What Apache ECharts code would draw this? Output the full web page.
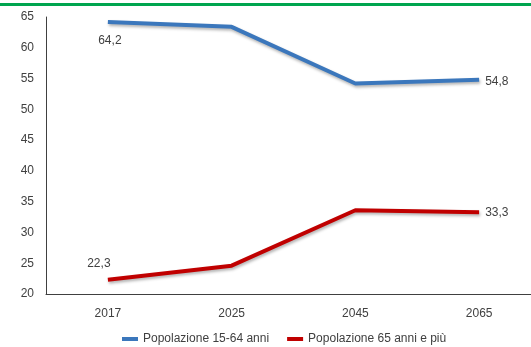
<!DOCTYPE html>
<html>
<head>
<meta charset="utf-8">
<script src="https://cdn.jsdelivr.net/npm/echarts@6/dist/echarts.min.js"></script>
<style>
  html, body { margin: 0; padding: 0; background: #ffffff; }
  #topbar { position: absolute; left: 0; top: 3px; width: 531px; height: 3px; background: #00a54f; }
  #chart { width: 531px; height: 347px; }
</style>
</head>
<body>
<div id="topbar"></div>
<div id="chart"></div>
<script>
// Anni di proiezione
const years = ['2017', '2025', '2045', '2065'];
// Quota percentuale della popolazione per fascia d'età
const pop1564 = [64.2, 63.4, 54.2, 54.8];
const pop65 = [22.3, 24.6, 33.6, 33.3];
const seriesNames = ['Popolazione 15-64 anni', 'Popolazione 65 anni e più'];
const yTicks = { min: 20, max: 65, step: 5 };

const font = '"Liberation Sans", Arial, sans-serif';
const chart = echarts.init(document.getElementById('chart'));

// Etichette con virgola decimale, solo sul primo e sull'ultimo punto
function fmt(p) { return String(p.value).replace('.', ','); }

function withLabels(values, firstLabel, lastLabel) {
  return values.map(function (v, i) {
    if (i === 0) return { value: v, label: firstLabel };
    if (i === values.length - 1) return { value: v, label: lastLabel };
    return v;
  });
}

const labelBase = { show: false, fontFamily: font, fontSize: 12, color: '#404040', formatter: fmt };
const shadow = { shadowColor: 'rgba(0,0,0,0.3)', shadowBlur: 3, shadowOffsetX: 1, shadowOffsetY: 2 };

chart.setOption({
  animation: false,
  grid: { left: 46, top: 17, width: 495, height: 277, outerBoundsMode: 'none', containLabel: false },
  legend: {
    top: 328,
    left: 117,
    itemWidth: 16,
    itemHeight: 4,
    itemGap: 18,
    icon: 'rect',
    textStyle: { fontFamily: font, fontSize: 12, color: '#404040' },
    data: seriesNames
  },
  xAxis: {
    type: 'category',
    data: years,
    boundaryGap: true,
    axisLine: { lineStyle: { color: '#404040', width: 1 } },
    axisTick: { show: false },
    axisLabel: { fontFamily: font, fontSize: 12, color: '#404040', margin: 14 }
  },
  yAxis: {
    type: 'value',
    min: yTicks.min,
    max: yTicks.max,
    interval: yTicks.step,
    splitLine: { show: false },
    axisLine: { show: true, lineStyle: { color: '#404040', width: 1 } },
    axisTick: { show: false },
    axisLabel: { fontFamily: font, fontSize: 12, color: '#404040', margin: 12 }
  },
  series: [
    {
      name: seriesNames[0],
      type: 'line',
      data: withLabels(pop1564,
        { show: true, position: 'bottom', offset: [2, 8] },
        { show: true, position: 'right', distance: 6, offset: [0, 2] }),
      symbol: 'circle',
      symbolSize: 0,
      showSymbol: true,
      color: '#3b77bc',
      lineStyle: Object.assign({ width: 4, color: '#3b77bc' }, shadow),
      label: labelBase
    },
    {
      name: seriesNames[1],
      type: 'line',
      data: withLabels(pop65,
        { show: true, position: 'top', offset: [-9, -5] },
        { show: true, position: 'right', distance: 6, offset: [0, 1] }),
      symbol: 'circle',
      symbolSize: 0,
      showSymbol: true,
      color: '#c00000',
      lineStyle: Object.assign({ width: 4, color: '#c00000' }, shadow),
      label: labelBase
    }
  ]
});
</script>
</body>
</html>
